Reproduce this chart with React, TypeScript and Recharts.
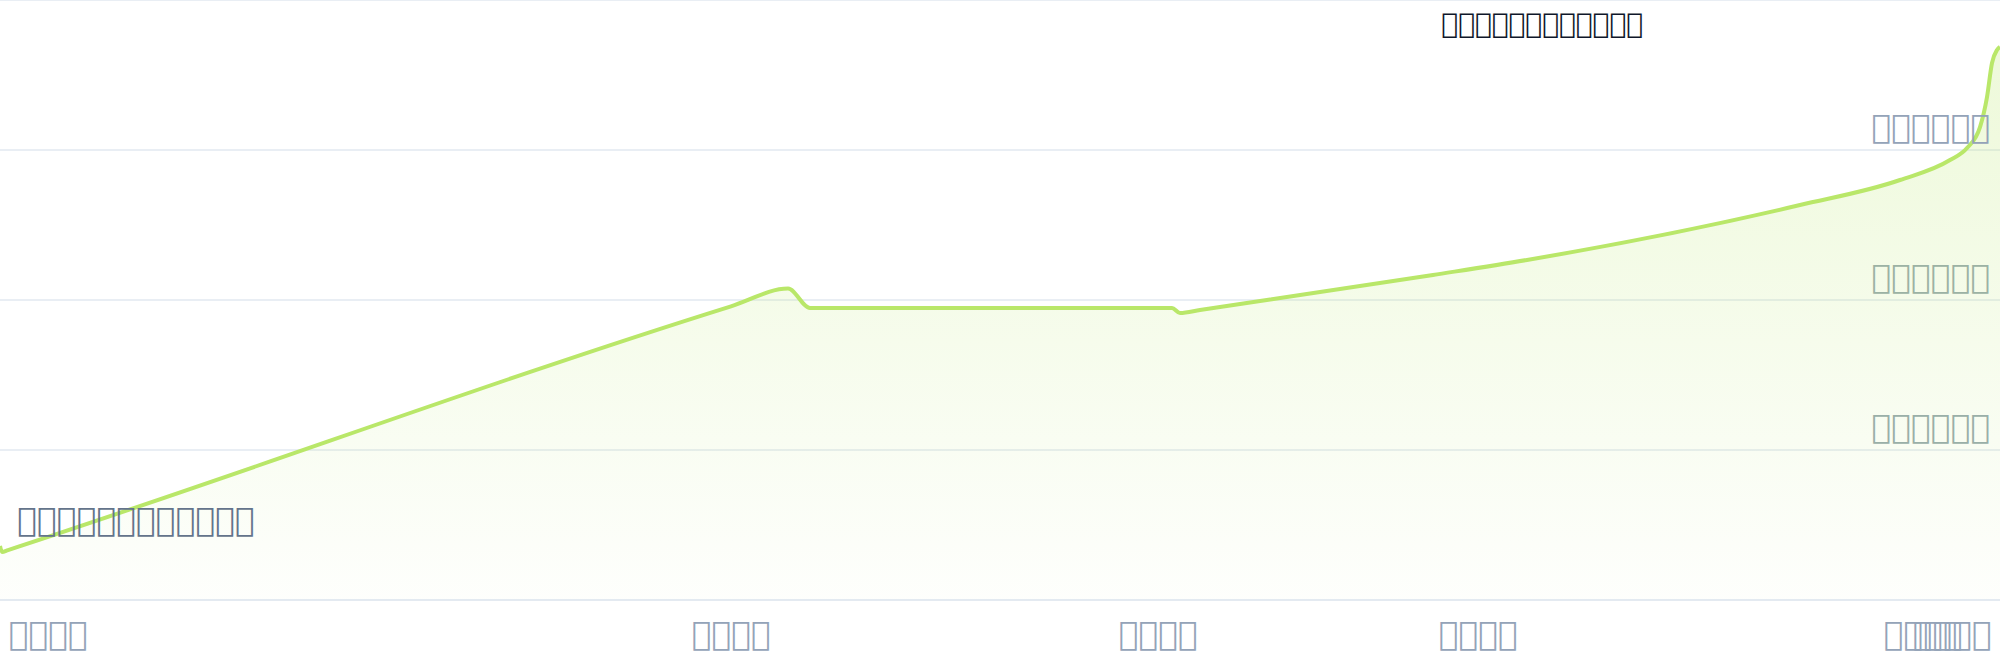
import React from 'react';
import { AreaChart, Area, XAxis, YAxis, CartesianGrid, ReferenceDot } from 'recharts';

// days since start
const days = [0, 1, 4, 365.5, 394, 405, 586, 590, 600, 716.5, 763.5, 900, 950, 975, 983.5, 990, 993.5, 996, 998.5, 1000];
// value (millions)
const values = [3.6, 3.2, 3.33, 19.58, 20.76, 19.47, 19.47, 19.13, 19.33, 21.67, 22.67, 26.33, 28.0, 29.33, 30.13, 31.53, 33.53, 35.8, 36.67, 36.87];

const xTickValues = [24, 365.5, 579, 739, 961.5, 976];
const xTickLabels = [
  '\uE101\uE102\uE103\uE104',
  '\uE101\uE102\uE103\uE105',
  '\uE101\uE102\uE103\uE106',
  '\uE101\uE102\uE103\uE107',
  '\uE101\uE102\uE103\uE108',
  '\uE101\uE102\uE103\uE109',
];

const yTickValues = [10, 20, 30];
const yTickLabels = [
  '\uE201\uE200\uE210\uE211\uE212\uE213',
  '\uE202\uE200\uE210\uE211\uE212\uE213',
  '\uE203\uE200\uE210\uE211\uE212\uE213',
];
// labels sit beneath the translucent area, so the lower ones pick up its green tint
const yTickColors = ['#9aafa8', '#9cb2a4', '#94a3b8'];

const minLabel = '\uE301\uE302\uE303\uE304\uE305\uE306\uE307\uE308\uE309\uE30A\uE30B\uE30C';
const maxLabel = '\uE301\uE302\uE303\uE304\uE305\uE306\uE307\uE308\uE309\uE30D\uE30E\uE30F';

const data = days.map((d, i) => ({ day: d, value: values[i] }));

const FONT = 'DejaVu Sans';

const XTick = (props: any) => {
  const { x, payload } = props;
  const i = xTickValues.indexOf(payload.value);
  return (
    <text x={x} y={645} textAnchor="middle" fill="#94a3b8" fontSize={33} fontFamily={FONT}>
      {xTickLabels[i]}
    </text>
  );
};

const YTick = (props: any) => {
  const { y, payload } = props;
  const i = yTickValues.indexOf(payload.value);
  return (
    <text x={1990} y={y - 12} textAnchor="end" fill={yTickColors[i]} fontSize={33} fontFamily={FONT}>
      {yTickLabels[i]}
    </text>
  );
};

const MinLabel = (props: any) => {
  const { viewBox } = props;
  return (
    <text x={viewBox.x + 17} y={531} fill="#64748b" fontSize={33} fontFamily={FONT}>
      {minLabel}
    </text>
  );
};

const MaxLabel = () => (
  <text x={1643} y={33} textAnchor="end" fill="#0f172a" fontSize={28} fontWeight="bold" fontFamily={FONT}>
    {maxLabel}
  </text>
);

export default function App() {
  return (
    <div style={{ position: 'absolute', left: 0, top: 0, width: 2000, height: 660 }}>
      <AreaChart width={2000} height={660} data={data} margin={{ top: 0, right: 0, bottom: 0, left: 0 }}>
        <defs>
          <linearGradient id="areaFill" x1="0" y1="0" x2="0" y2="1">
            <stop offset="0%" stopColor="#b9e769" stopOpacity={0.42} />
            <stop offset="100%" stopColor="#b9e769" stopOpacity={0.03} />
          </linearGradient>
        </defs>
        <CartesianGrid horizontal vertical={false} stroke="#e2e8f0" strokeWidth={1.5} />
        <XAxis
          type="number"
          dataKey="day"
          domain={[0, 1000]}
          ticks={xTickValues}
          interval={0}
          tick={<XTick />}
          tickLine={false}
          axisLine={{ stroke: '#e2e8f0', strokeWidth: 1.5 }}
          height={60}
          allowDataOverflow
        />
        <YAxis
          type="number"
          domain={[0, 40]}
          ticks={yTickValues}
          orientation="right"
          mirror
          tick={<YTick />}
          tickLine={false}
          axisLine={false}
        />
        <Area
          type="monotone"
          dataKey="value"
          stroke="#b9e769"
          strokeWidth={4}
          fill="url(#areaFill)"
          isAnimationActive={false}
          dot={false}
          activeDot={false}
        />
        <ReferenceDot x={days[0]} y={values[0]} r={0} stroke="none" fill="none" label={<MinLabel />} />
        <ReferenceDot x={days[days.length - 1]} y={values[values.length - 1]} r={0} stroke="none" fill="none" label={<MaxLabel />} />
      </AreaChart>
    </div>
  );
}
